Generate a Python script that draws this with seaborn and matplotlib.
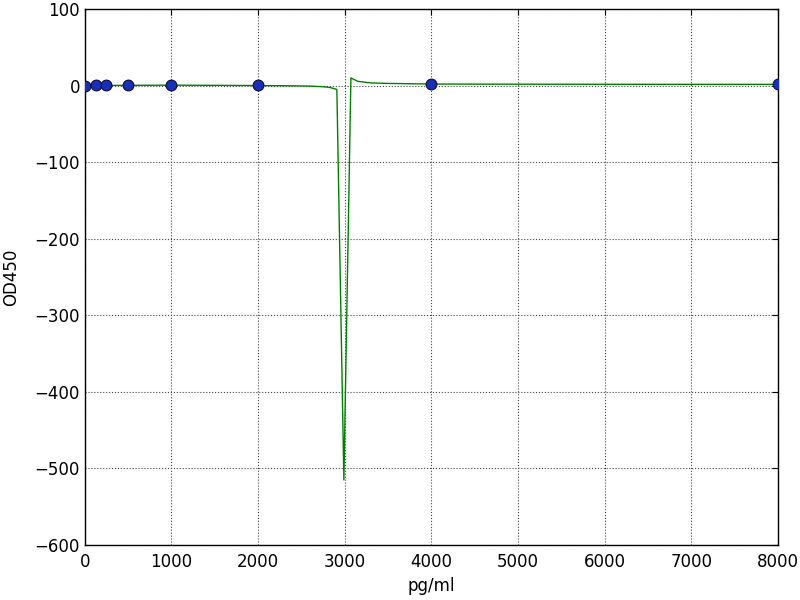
import matplotlib
matplotlib.use("Agg")
import matplotlib.pyplot as plt
import seaborn as sns
import pandas as pd

# Standard measurements
conc = [0, 125, 250, 500, 1000, 2000, 4000, 8000]
od450 = [0.05, 0.1, 0.15, 0.3, 0.5, 0.9, 1.4, 2.2]

# Fitted curve
fit_x = [0, 500, 1000, 1500, 2000, 2400, 2600, 2750, 2830, 2909, 2990, 3071,
         3152, 3300, 3500, 4000, 5000, 6000, 7000, 8000]
fit_y = [0.1, 0.3, 0.5, 0.3, 0.0, -0.3, -0.7, -1.5, -2.5, -5, -515, 10,
         5.5, 3.5, 2.8, 2.0, 1.8, 1.7, 1.6, 1.6]

sns.set_style("white")
plt.rcParams["font.family"] = ["DejaVu Sans"]
plt.rcParams["font.size"] = 12
plt.rcParams["text.color"] = "black"
plt.rcParams["axes.labelcolor"] = "black"
plt.rcParams["xtick.color"] = "black"
plt.rcParams["ytick.color"] = "black"

pts = pd.DataFrame({"x": conc, "y": od450})
fit = pd.DataFrame({"x": fit_x, "y": fit_y})

fig, ax = plt.subplots(figsize=(8, 6), dpi=100)
fig.subplots_adjust(left=0.106, right=0.9725, bottom=0.0917, top=0.985)

sns.lineplot(data=fit, x="x", y="y", ax=ax, color="#008000", linewidth=1.0,
             sort=False, estimator=None, zorder=2)
sns.scatterplot(data=pts, x="x", y="y", ax=ax, color="#1a2fb8", edgecolor="#0a0a40",
                linewidth=0.8, s=60, zorder=3)

ax.set_xlim(0, 8000)
ax.set_ylim(-600, 100)
ax.set_xlabel("pg/ml", fontsize=12, color="black")
ax.set_ylabel("OD450", fontsize=12, labelpad=10, color="black")
ax.grid(True, color="#444444", linestyle=":", linewidth=0.8)
for s in ax.spines.values():
    s.set_visible(True)
    s.set_color("black")
    s.set_linewidth(1.0)
ax.tick_params(direction="in", top=True, right=True, length=4, labelsize=12,
               colors="black", labelcolor="black")
ax.tick_params(axis="x", pad=6)

fig.savefig("out.png", dpi=100)
